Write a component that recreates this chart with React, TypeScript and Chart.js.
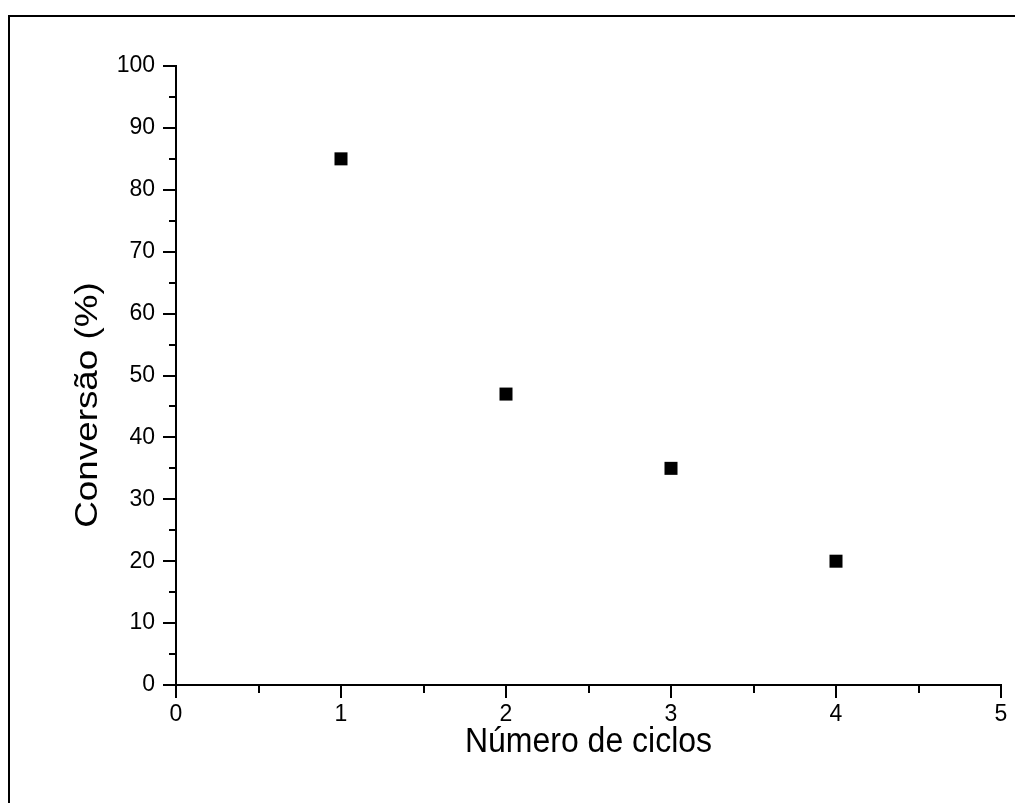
import React, { useEffect, useRef } from "react";
import { Chart, registerables } from "chart.js";

Chart.register(...registerables);

const cycles = [1, 2, 3, 4];
const conversion = [85, 47, 35, 20];
const xTitle = "Número de ciclos";
const yTitle = "Conversão (%)";
const xMin = 0, xMax = 5, xStep = 1, xMinorStep = 0.5;
const yMin = 0, yMax = 100, yStep = 10, yMinorStep = 5;

const FONT = "Arial, 'Liberation Sans', sans-serif";

const framePlugin = {
  id: "frame",
  beforeDraw(chart: any) {
    const ctx = chart.ctx;
    ctx.save();
    ctx.fillStyle = "#ffffff";
    ctx.fillRect(0, 0, chart.width, chart.height);
    ctx.strokeStyle = "#000";
    ctx.lineWidth = 2;
    ctx.beginPath();
    ctx.moveTo(9, chart.height + 5);
    ctx.lineTo(9, 16);
    ctx.lineTo(chart.width + 5, 16);
    ctx.stroke();
    ctx.restore();
  },
};

const titlesPlugin = {
  id: "axisTitles",
  afterDraw(chart: any) {
    const ctx = chart.ctx;
    const xs = chart.scales.x;
    ctx.save();
    ctx.font = "32px " + FONT;
    ctx.fillStyle = "#000";
    ctx.textAlign = "center";
    ctx.textBaseline = "middle";
    ctx.save();
    ctx.translate(88, 405);
    ctx.rotate(-Math.PI / 2);
    ctx.scale(1.15, 1);
    ctx.fillText(yTitle, 0, 0);
    ctx.restore();
    ctx.save();
    ctx.translate((xs.left + xs.right) / 2, 742);
    ctx.scale(1, 1.12);
    ctx.fillText(xTitle, 0, 0);
    ctx.restore();
    ctx.restore();
  },
};

const minorTicksPlugin = {
  id: "minorTicks",
  afterDraw(chart: any) {
    const ctx = chart.ctx;
    const xs = chart.scales.x;
    const ys = chart.scales.y;
    ctx.save();
    ctx.strokeStyle = "#000";
    ctx.lineWidth = 2;
    ctx.beginPath();
    for (let v = xMin + xMinorStep; v < xMax; v += xStep) {
      const px = Math.round(xs.getPixelForValue(v));
      ctx.moveTo(px, xs.top);
      ctx.lineTo(px, xs.top + 8);
    }
    for (let v = yMin + yMinorStep; v < yMax; v += yStep) {
      const py = Math.round(ys.getPixelForValue(v));
      ctx.moveTo(ys.right, py);
      ctx.lineTo(ys.right - 7, py);
    }
    ctx.stroke();
    ctx.restore();
  },
};

export default function App() {
  const ref = useRef<HTMLCanvasElement | null>(null);
  useEffect(() => {
    if (!ref.current) return;
    const chart = new Chart(ref.current, {
      type: "scatter",
      data: {
        datasets: [
          {
            label: "Conversão",
            data: cycles.map((c, i) => ({ x: c, y: conversion[i] })),
            pointStyle: "rect",
            pointRadius: 9.2,
            pointHoverRadius: 9.2,
            backgroundColor: "#000",
            borderColor: "#000",
            borderWidth: 0,
          },
        ],
      },
      options: {
        animation: false,
        responsive: false,
        events: [],
        layout: { padding: { left: 0, right: 14, top: 66, bottom: 0 } },
        plugins: {
          legend: { display: false },
          tooltip: { enabled: false },
        },
        scales: {
          x: {
            type: "linear",
            min: xMin,
            max: xMax,
            afterFit: (s: any) => {
              s.height = 118;
            },
            ticks: {
              stepSize: xStep,
              color: "#000",
              font: { family: FONT, size: 23 },
              padding: 3,
              maxRotation: 0,
            },
            grid: {
              display: true,
              drawOnChartArea: false,
              drawTicks: true,
              tickLength: 13,
              color: "#000",
              lineWidth: 2,
            },
            border: { display: true, color: "#000", width: 2 },
            title: { display: false },
          },
          y: {
            type: "linear",
            min: yMin,
            max: yMax,
            afterFit: (s: any) => {
              s.width = 176;
            },
            ticks: {
              stepSize: yStep,
              color: "#000",
              font: { family: FONT, size: 23 },
              padding: 8,
            },
            grid: {
              display: true,
              drawOnChartArea: false,
              drawTicks: true,
              tickLength: 13,
              color: "#000",
              lineWidth: 2,
            },
            border: { display: true, color: "#000", width: 2 },
            title: { display: false },
          },
        },
      },
      plugins: [framePlugin, minorTicksPlugin, titlesPlugin],
    } as any);
    return () => chart.destroy();
  }, []);
  return (
    <canvas
      ref={ref}
      width={1015}
      height={803}
      style={{ position: "fixed", left: 0, top: 0, width: 1015, height: 803, display: "block" }}
    />
  );
}
